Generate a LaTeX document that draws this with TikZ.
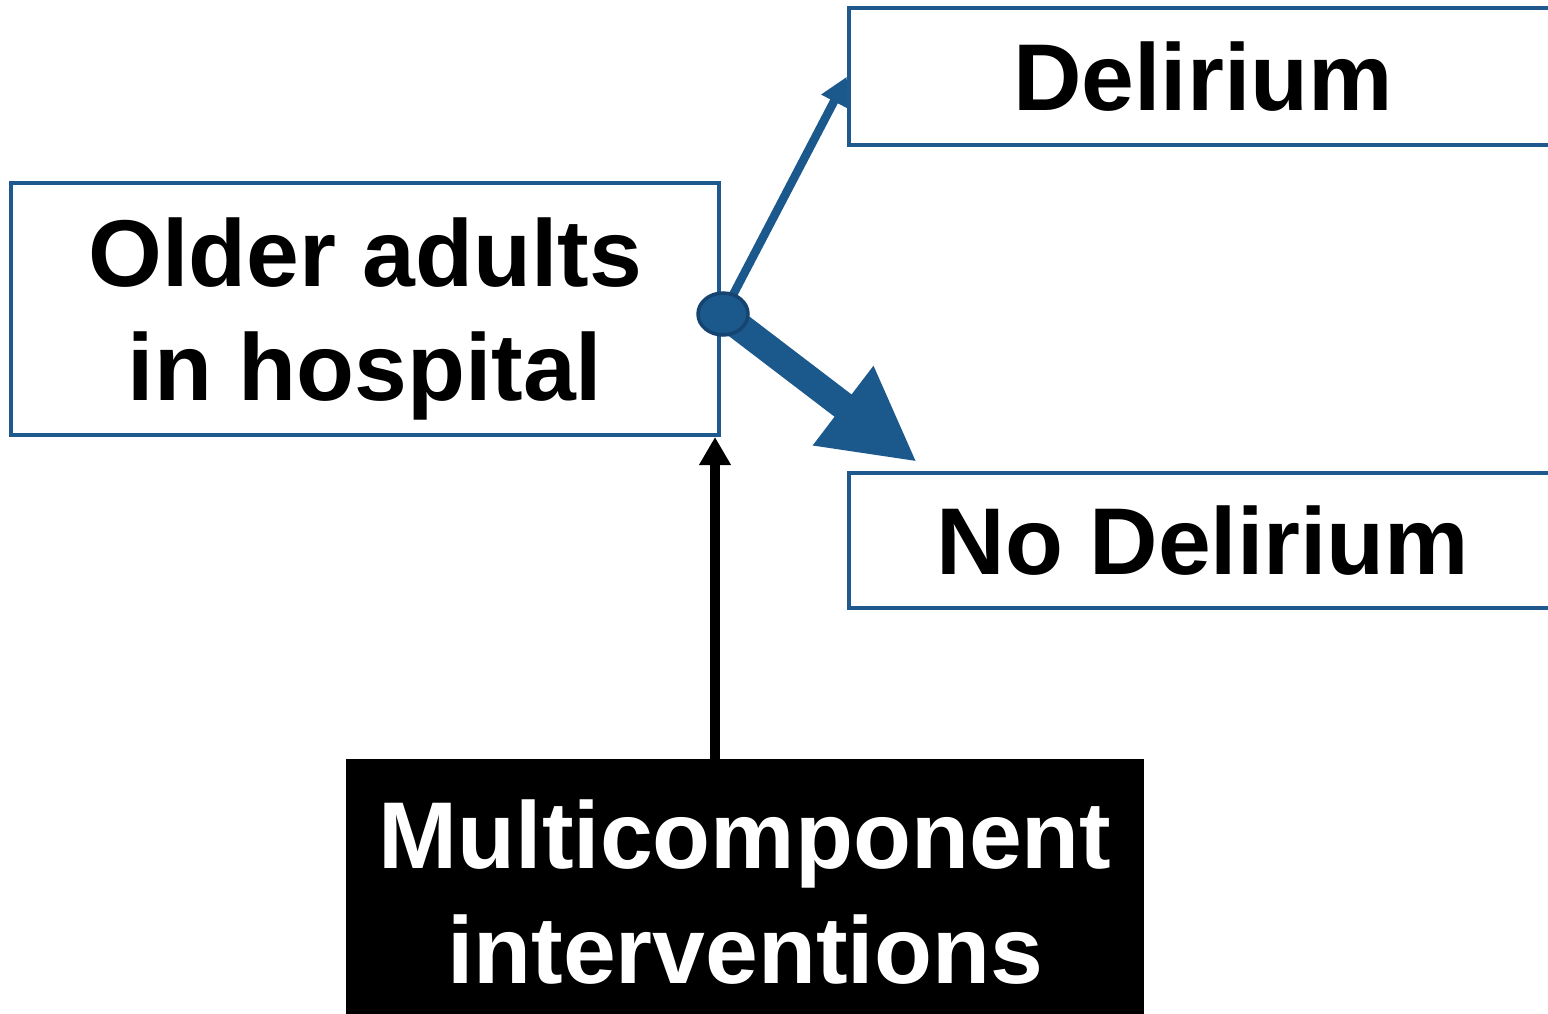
\documentclass[tikz,border=0pt]{standalone}
\usepackage{fontspec}
\setmainfont{Liberation Sans}
\usetikzlibrary{arrows.meta,shapes.geometric,calc}
\definecolor{boxblue}{RGB}{30,90,142}
\definecolor{arrblue}{RGB}{27,88,140}
\definecolor{darkblue}{RGB}{22,68,112}
\pgfdeclarelayer{back}
\pgfdeclarelayer{bg}
\pgfsetlayers{back,bg,main}
\tikzset{
  bluebox/.style={draw=boxblue, line width=0.04cm, fill=white, inner sep=0pt,
    font=\fontsize{27}{32.5}\selectfont\bfseries, align=center},
  blackbox/.style={draw=black, fill=black, text=white, inner sep=0pt,
    font=\fontsize{27}{32.5}\selectfont\bfseries, align=center},
  junction/.style={ellipse, draw=darkblue, fill=arrblue, line width=0.035cm,
    minimum width=0.5cm, minimum height=0.42cm, inner sep=0pt},
  thinarrow/.style={draw=arrblue, line width=0.085cm,
    -{Triangle[length=0.28cm,width=0.27cm]}},
  thickarrow/.style={draw=arrblue, line width=0.28cm,
    -{Triangle[length=0.93cm,width=0.93cm]}},
  blackarrow/.style={draw=black, line width=0.1cm,
    -{Triangle[length=0.28cm,width=0.3cm]}}
}
\begin{document}
\begin{tikzpicture}
\useasboundingbox (0,0) rectangle (15.48,-10.13);
\begin{pgfonlayer}{back}
\fill[white] (0,0) rectangle (15.48,-10.13);
\end{pgfonlayer}
\clip (0,0) rectangle (15.48,-10.13);

\node[bluebox, minimum width=7.08cm, minimum height=2.52cm, text depth=0pt] (older) at (3.65,-3.09)
  {Older adults\\in hospital};
\node[bluebox, minimum width=7.08cm, minimum height=1.37cm] (del) at (12.03,-0.765)
  {Delirium};
\node[bluebox, minimum width=7.08cm, minimum height=1.35cm] (nodel) at (12.03,-5.405)
  {No Delirium};
\node[blackbox, minimum width=7.96cm, minimum height=2.64cm] (multi) at (7.45,-8.92)
  {Multicomponent\\interventions};
\node[junction] (j) at (7.23,-3.14) {};

\coordinate (thicktip) at ($(nodel.north west)+(0.70,0.09)$);
\coordinate (blacktip) at ($(older.south east)+(-0.06,0)$);

\begin{pgfonlayer}{bg}
\draw[thinarrow] (j.center) -- (del.west);
\draw[thickarrow] (j.center) -- (thicktip);
\end{pgfonlayer}
\draw[blackarrow] (multi.north -| blacktip) -- (blacktip);
\end{tikzpicture}
\end{document}
